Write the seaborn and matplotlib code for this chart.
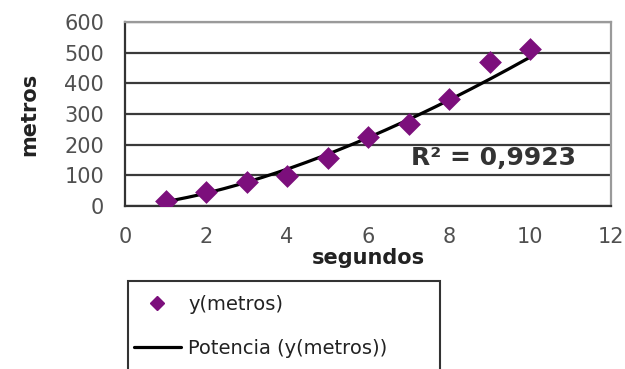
import numpy as np
import pandas as pd
import matplotlib
matplotlib.use("Agg")
import matplotlib.pyplot as plt
from matplotlib.patches import Rectangle
from matplotlib.lines import Line2D
import seaborn as sns

# Measured distance over time
segundos = [1, 2, 3, 4, 5, 6, 7, 8, 9, 10]
metros = [15, 46, 78, 98, 155, 225, 267, 349, 470, 512]
x_ticks = [0, 2, 4, 6, 8, 10, 12]
y_ticks = [0, 100, 200, 300, 400, 500, 600]
r2_label = "R² = 0,9923"

df = pd.DataFrame({"segundos": segundos, "metros": metros})

# Power trend line y = a * x^b, fitted in log space
b, log_a = np.polyfit(np.log(df["segundos"]), np.log(df["metros"]), 1)
fit_x = np.linspace(min(segundos), max(segundos), 200)
fit = pd.DataFrame({"segundos": fit_x, "metros": np.exp(log_a) * fit_x ** b})

sns.set_theme(style="white")
plt.rcParams["font.family"] = ["DejaVu Sans"]

W, H = 625, 369
fig = plt.figure(figsize=(W / 100, H / 100), dpi=100)
ax = fig.add_axes([125 / W, 1 - 206 / H, (611 - 125) / W, (206 - 22) / H])

purple = "#7c0f7c"
sns.lineplot(data=fit, x="segundos", y="metros", ax=ax, color="black",
             linewidth=2.3, zorder=3)
sns.scatterplot(data=df, x="segundos", y="metros", ax=ax, marker="D",
                s=135, color=purple, edgecolor=purple, linewidth=0, zorder=4)

ax.set_xlim(0, 12)
ax.set_ylim(0, 600)
ax.set_xticks(x_ticks)
ax.set_yticks(y_ticks)
ax.yaxis.grid(True, color="#3a3a3a", linewidth=1.6)
ax.set_axisbelow(True)

for side in ("left", "bottom"):
    ax.spines[side].set_color("#333333")
    ax.spines[side].set_linewidth(1.6)
for side in ("top", "right"):
    ax.spines[side].set_color("#9a9a9a")
    ax.spines[side].set_linewidth(1.6)

ax.tick_params(axis="both", direction="out", length=5, width=1.5,
               color="#333333", labelcolor="#505050", labelsize=15)
ax.tick_params(axis="x", pad=10)
ax.tick_params(axis="y", pad=10)

ax.set_xlabel("segundos", fontsize=15, fontweight="bold", color="#222222",
              labelpad=1)
ax.set_ylabel("metros", fontsize=15, fontweight="bold", color="#222222",
              labelpad=18)

ax.text(7.05, 156, r2_label, fontsize=18, fontweight="bold", color="#333333",
        ha="left", va="center", zorder=5)

# Legend box, running past the bottom edge of the figure
fig.patches.append(Rectangle((128 / W, -0.1), (440 - 128) / W, 0.1 + (369 - 281) / H,
                             transform=fig.transFigure, facecolor="white",
                             edgecolor="#333333", linewidth=1.5))
handles = [
    Line2D([], [], linestyle="none", marker="D", markersize=7,
           color=purple),
    Line2D([], [], color="black", linewidth=2.3),
]
fig.legend(handles, ["y(metros)", "Potencia (y(metros))"],
           loc="upper left", bbox_to_anchor=(128 / W, 1 - 289 / H),
           frameon=False, fontsize=14, handlelength=2.4, handletextpad=0.4,
           labelspacing=1.3, borderaxespad=0, borderpad=0.3,
           labelcolor="#222222")

fig.savefig("out.png", dpi=100)
